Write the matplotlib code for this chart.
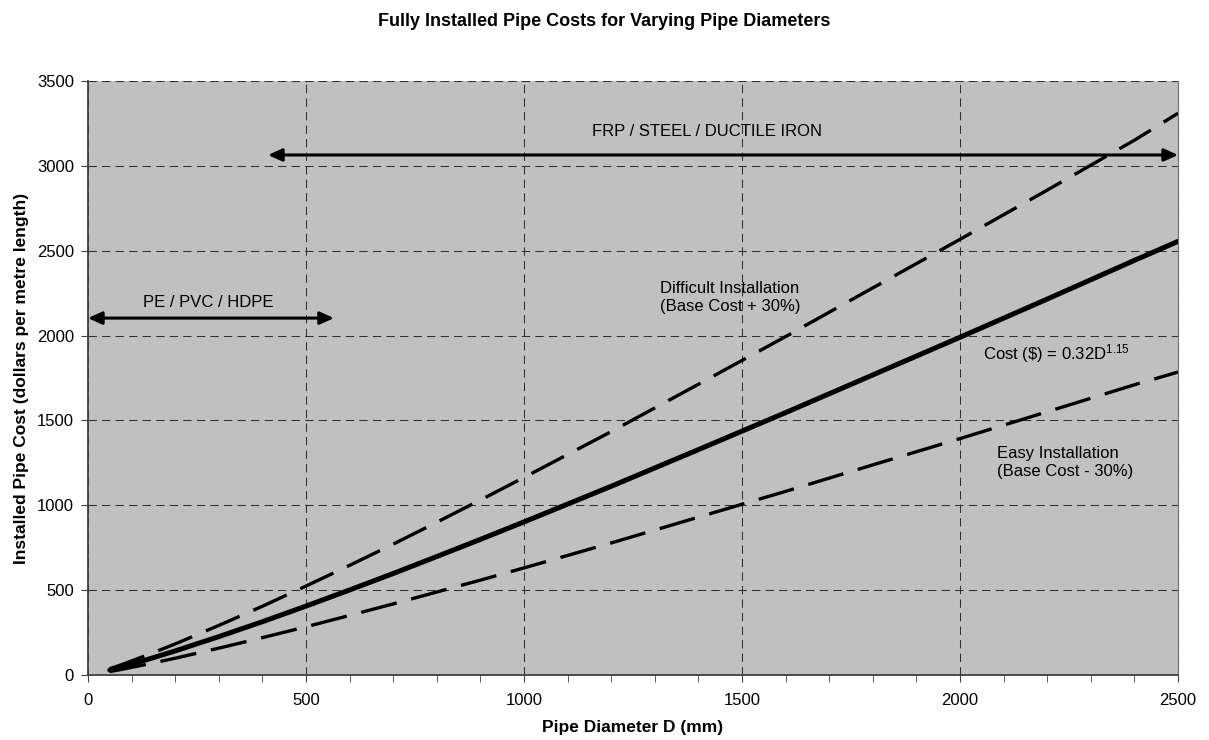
import matplotlib.pyplot as plt
from matplotlib.ticker import MultipleLocator

plt.rcParams['font.family'] = ['Liberation Sans', 'DejaVu Sans']
plt.rcParams['mathtext.fontset'] = 'custom'
plt.rcParams['mathtext.rm'] = 'Liberation Sans'
plt.rcParams['mathtext.it'] = 'Liberation Sans:italic'
plt.rcParams['mathtext.default'] = 'rm'

# valores
diametro = [50, 75, 100, 150, 200, 300, 400, 500, 600, 700, 800, 900, 1000,
            1200, 1400, 1600, 1800, 2000, 2200, 2400, 2500]
base = [29, 46, 64, 102, 142, 226, 314, 406, 501, 598, 698, 799, 902,
        1112, 1328, 1546, 1768, 1990, 2215, 2443, 2555]
dificil = [37, 59, 83, 132, 183, 292, 405, 524, 646, 771, 900, 1031, 1164,
           1434, 1713, 1994, 2281, 2567, 2857, 3151, 3310]
facil = [20, 32, 45, 71, 99, 158, 220, 284, 351, 419, 489, 559, 631,
         778, 930, 1082, 1238, 1393, 1551, 1710, 1785]

fig = plt.figure(figsize=(12.09, 7.40), dpi=100)
ax = fig.add_axes([88/1209, 65/740, 1090/1209, 594/740])
ax.set_facecolor('#c0c0c0')

ax.plot(diametro, dificil, color='black', lw=2.4, dashes=(11, 4.5))
ax.plot(diametro, facil, color='black', lw=2.4, dashes=(11, 4.5))
ax.plot(diametro, base, color='black', lw=3.6, solid_capstyle='round')

ax.set_xlim(0, 2500)
ax.set_ylim(0, 3500)
ax.xaxis.set_major_locator(MultipleLocator(500))
ax.xaxis.set_minor_locator(MultipleLocator(100))
ax.yaxis.set_major_locator(MultipleLocator(500))
ax.grid(True, which='major', color='#303030', ls=(0, (8, 5)), lw=0.75)
ax.set_axisbelow(True)
ax.tick_params(labelsize=12, length=5, color='#404040', pad=5)
ax.tick_params(axis='x', pad=8)
ax.tick_params(which='minor', length=5, color='#404040')
for s in ['left', 'bottom']:
    ax.spines[s].set_color('#404040')
    ax.spines[s].set_linewidth(1.3)
ax.spines['top'].set_visible(False)
ax.spines['right'].set_color('#707070')

ax.set_xlabel('Pipe Diameter D (mm)', fontsize=12.5, fontweight='bold')
ax.xaxis.set_label_coords(0.5, -0.076)
ax.set_ylabel('Installed Pipe Cost (dollars per metre length)', fontsize=12.5, fontweight='bold', labelpad=6)
fig.suptitle('Fully Installed Pipe Costs for Varying Pipe Diameters', fontsize=13, fontweight='bold', y=0.971, va='center')

# flechas
flecha = dict(arrowstyle='<|-|>,head_length=0.55,head_width=0.25', color='black', lw=2.2,
              mutation_scale=15, shrinkA=0, shrinkB=0)
ax.annotate('', xy=(0, 2103), xytext=(564, 2103), arrowprops=flecha)
ax.annotate('', xy=(413, 3064), xytext=(2500, 3064), arrowprops=flecha)

ax.text(275, 2192, 'PE / PVC / HDPE', ha='center', va='center', fontsize=12)
ax.text(1420, 3205, 'FRP / STEEL / DUCTILE IRON', ha='center', va='center', fontsize=12)
ax.text(1312, 2224, 'Difficult Installation\n(Base Cost + 30%)', ha='left', va='center', fontsize=12, linespacing=1.25)
ax.text(2053, 1892, 'Cost (\\$) = 0.32D$^{1.15}$', ha='left', va='center', fontsize=12)
ax.text(2085, 1255, 'Easy Installation\n(Base Cost - 30%)', ha='left', va='center', fontsize=12, linespacing=1.25)

fig.savefig('out.png', dpi=100)
